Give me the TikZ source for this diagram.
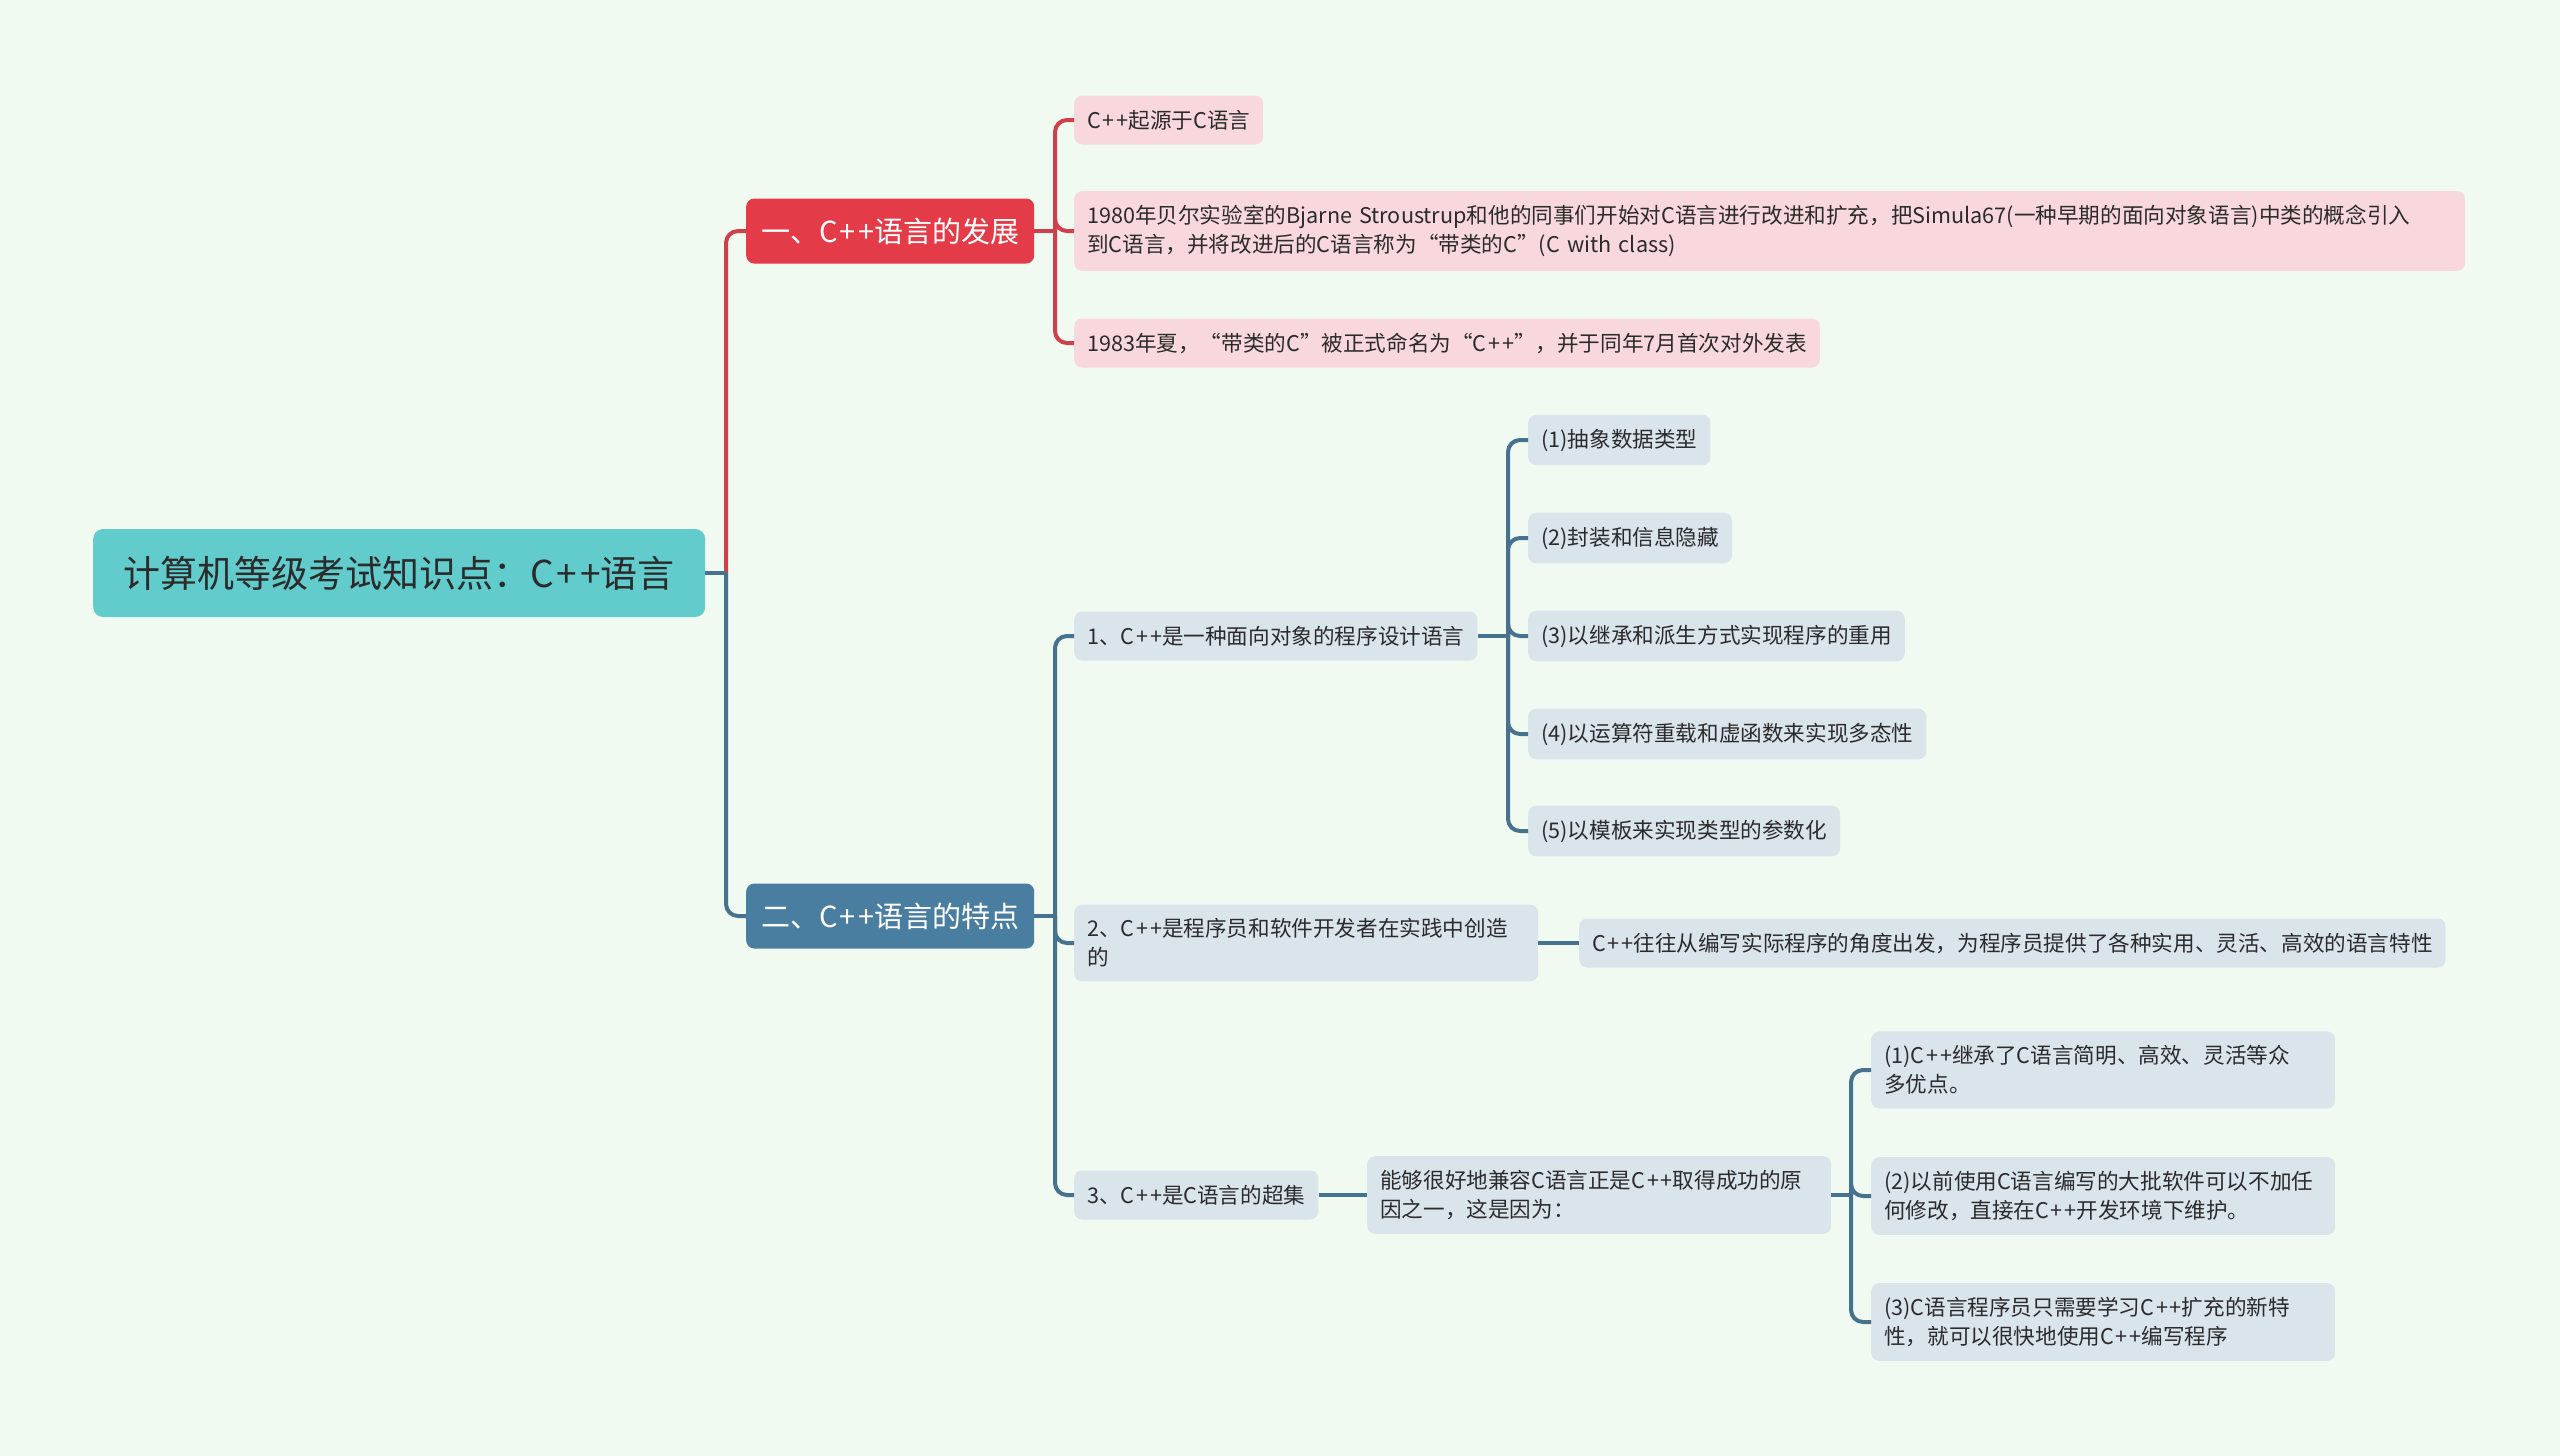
\documentclass[tikz,border=0pt]{standalone}
\usepackage{fontspec}
\setmainfont{Noto Sans CJK SC}
\usetikzlibrary{positioning}

\definecolor{bgmint}{HTML}{F1FAF0}
\definecolor{rootteal}{HTML}{62CBCC}
\definecolor{topicred}{HTML}{E33B48}
\definecolor{topicblue}{HTML}{4A7EA0}
\definecolor{pinkleaf}{HTML}{F8D8DC}
\definecolor{greyleaf}{HTML}{DAE4EB}
\definecolor{linkred}{HTML}{D13F4B}
\definecolor{linkblue}{HTML}{46728F}
\definecolor{inkdark}{HTML}{2B2B2B}

\newcommand{\cpp}{C\kern.08em+\kern.08em+}

\begin{document}
\begin{tikzpicture}[
    x=1pt, y=-1pt,
    font=\fontsize{21.6}{29}\selectfont,
    root/.style={rectangle, fill=rootteal, text=inkdark, rounded corners=10pt, minimum width=612pt, minimum height=88pt, font=\fontsize{37}{42}\selectfont, anchor=west},
    topic/.style={rectangle, text=white, rounded corners=8pt, minimum width=288pt, minimum height=65pt, font=\fontsize{29}{34}\selectfont, anchor=west},
    leaf/.style={rectangle, text=inkdark, rounded corners=8pt, inner xsep=13pt, inner ysep=14pt, minimum height=49pt, align=left, anchor=west},
    redleaf/.style={leaf, fill=pinkleaf},
    blueleaf/.style={leaf, fill=greyleaf},
    wideleaf/.style={blueleaf, text width=438pt},
    redlink/.style={draw=linkred, line width=4pt, rounded corners=12pt},
    bluelink/.style={draw=linkblue, line width=4pt, rounded corners=12pt}
]

% background
\fill[bgmint] (0,0) rectangle (2560,1456);
\useasboundingbox (0,0) rectangle (2560,1456);

% root and the two topics
\node[root] (root) at (93,573) {计算机等级考试知识点：\cpp 语言};
\node[topic, fill=topicred]  (dev)  at (746,231) {一、\cpp 语言的发展};
\node[topic, fill=topicblue] (feat) at (746,916) {二、\cpp 语言的特点};

% Development
\node[redleaf] (dev1) at (1074,120) {\cpp 起源于C语言};
\node[redleaf, text width=1365pt] (dev2) at (1074,231) {1980年贝尔实验室的Bjarne Stroustrup和他的同事们开始对C语言进行改进和扩充，把Simula67(一种早期的面向对象语言)中类的概念引入\\到C语言，并将改进后的C语言称为“带类的C”(C with class)};
\node[redleaf] (dev3) at (1074,343) {1983年夏，“带类的C”被正式命名为“\cpp”，并于同年7月首次对外发表};

% Features
\node[blueleaf] (oop)   at (1074,636) {1、\cpp 是一种面向对象的程序设计语言};
\node[wideleaf] (prac)  at (1074,943) {2、\cpp 是程序员和软件开发者在实践中创造\\的};
\node[blueleaf] (super) at (1074,1195) {3、\cpp 是C语言的超集};

\node[blueleaf] (oop1) at (1528,440) {(1)抽象数据类型};
\node[blueleaf] (oop2) at (1528,538) {(2)封装和信息隐藏};
\node[blueleaf] (oop3) at (1528,636) {(3)以继承和派生方式实现程序的重用};
\node[blueleaf] (oop4) at (1528,734) {(4)以运算符重载和虚函数来实现多态性};
\node[blueleaf] (oop5) at (1528,831) {(5)以模板来实现类型的参数化};

\node[blueleaf] (prac1) at (1579,943) {\cpp 往往从编写实际程序的角度出发，为程序员提供了各种实用、灵活、高效的语言特性};

\node[wideleaf] (compat) at (1367,1195) {能够很好地兼容C语言正是\cpp 取得成功的原\\因之一，这是因为：};
\node[wideleaf] (why1) at (1871,1070) {(1)\cpp 继承了C语言简明、高效、灵活等众\\多优点。};
\node[wideleaf] (why2) at (1871,1196) {(2)以前使用C语言编写的大批软件可以不加任\\何修改，直接在\cpp 开发环境下维护。};
\node[wideleaf] (why3) at (1871,1322) {(3)C语言程序员只需要学习\cpp 扩充的新特\\性，就可以很快地使用\cpp 编写程序};

% junctions
\coordinate (j0)  at (726,573);
\coordinate (jd)  at (1055,231);
\coordinate (jf)  at (1055,916);
\coordinate (jo)  at (1508,636);
\coordinate (jc)  at (1851,1195);

% connectors
\draw[redlink] (j0) |- (dev.west);
\draw[bluelink] (j0) |- (feat.west);
\draw[bluelink] (root.east) -- (j0);

\draw[redlink] (dev.east) -- (jd);
\foreach \n in {dev1, dev2, dev3}
    \draw[redlink] (jd) |- (\n.west);

\draw[bluelink] (feat.east) -- (jf);
\foreach \n in {oop, prac, super}
    \draw[bluelink] (jf) |- (\n.west);

\draw[bluelink] (oop.east) -- (jo);
\foreach \n in {oop1, oop2, oop3, oop4, oop5}
    \draw[bluelink] (jo) |- (\n.west);

\draw[bluelink] (prac.east) -- (prac1.west);
\draw[bluelink] (super.east) -- (compat.west);

\draw[bluelink] (compat.east) -- (jc);
\foreach \n in {why1, why2, why3}
    \draw[bluelink] (jc) |- (\n.west);

\end{tikzpicture}
\end{document}
